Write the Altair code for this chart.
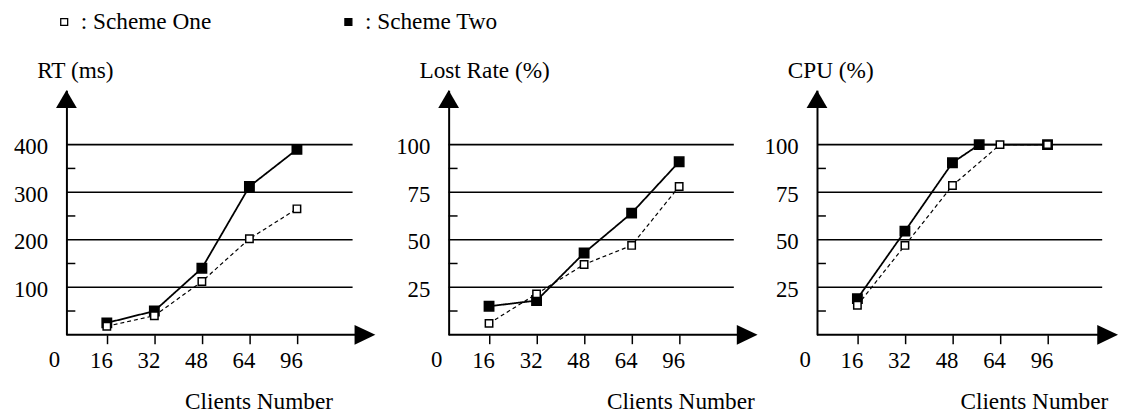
import json
import altair as alt
import numpy as np
import pandas as pd

FONT = "Liberation Serif"

# ---------------- data ----------------
clients = [16, 32, 48, 64, 96]
series_names = ["Scheme One", "Scheme Two"]
origin_label = ["0"]

rt_one = [18, 40, 112, 202, 265]
rt_two = [25, 50, 140, 312, 390]
rt_major = [100, 200, 300, 400]
rt_minor = [50, 150, 250, 350]

lost_one = [6, 21.5, 37, 47, 78]
lost_two = [15, 18, 43, 64, 91]

cpu_one = [15.5, 47, 78.5, 100, 100]
cpu_two = [19, 54.5, 90.5, 100, 100]
cpu_two_clients = [16, 32, 48, 57, 96]

pct_major = [25, 50, 75, 100]
pct_minor = [12.5, 37.5, 62.5, 87.5]

# ---------------- layout constants ----------------
H = 247
SLOT_PX = 48.0
SLOT0 = 0.15
slots = list(range(1, len(clients) + 1))
label_expr = json.dumps([""] + [str(c) for c in clients]) + "[datum.value]"

UP = "M-1,0.857L1,0.857L0,-0.857Z"
RIGHT = "M-1,-0.95L1,0L-1,0.95Z"

legend = alt.Legend(
    orient="none", legendX=-14, legendY=-81, direction="horizontal", title=None,
    symbolType="square", symbolSize=49, symbolStrokeColor="black", symbolStrokeWidth=1.3,
    symbolOpacity=1, labelFont=FONT, labelFontSize=23.5, labelColor="black",
    labelOffset=5, columnPadding=126, labelExpr="': ' + datum.label",
)
fill_scale = alt.Scale(domain=series_names, range=["white", "black"])
dash_of = {"Scheme One": [4, 3], "Scheme Two": [1, 0]}
width_of = {"Scheme One": 1.2, "Scheme Two": 1.8}
size_of = {"Scheme One": 56, "Scheme Two": 90}


def panel(one_x, one_y, two_x, two_y, units_per_px, major, minor, ytitle,
          W, grid_end, tip, title_x):
    rows = []
    for name, xs_, ys_ in (("Scheme Two", two_x, two_y), ("Scheme One", one_x, one_y)):
        for xv, yv in zip(xs_, ys_):
            rows.append({"series": name,
                         "slot": float(np.interp(xv, clients, slots)),
                         "value": yv})
    df = pd.DataFrame(rows)

    xsc = alt.Scale(domain=[SLOT0, SLOT0 + W / SLOT_PX], nice=False, zero=False)
    ysc = alt.Scale(domain=[0, H * units_per_px], nice=False, zero=False)

    x_axis = alt.Axis(
        values=slots, labelExpr=label_expr, domain=False, ticks=True, tickSize=9,
        tickWidth=1.5, tickColor="black", grid=False, labelFont=FONT,
        labelFontSize=23, labelColor="black", labelPadding=6, labelOffset=-6,
        labelOverlap=False, labelFlush=False,
        title="Clients Number", titleFont=FONT, titleFontSize=23.5,
        titleFontWeight="normal", titleColor="black", titleX=title_x, titleY=74,
        titleAlign="center", titleBaseline="alphabetic",
    )
    y_axis = alt.Axis(
        values=major, ticks=False, tickSize=0, grid=False, domain=True,
        domainColor="black", domainWidth=2, labelFont=FONT, labelFontSize=23,
        labelColor="black", labelPadding=19, labelOffset=2, labelOverlap=False,
        labelFlush=False,
        title=ytitle, titleFont=FONT, titleFontSize=23.5, titleFontWeight="normal",
        titleColor="black", titleAngle=0, titleAlign="left",
        titleBaseline="alphabetic", titleX=-30, titleY=-13,
    )
    X = alt.X("slot:Q", scale=xsc, axis=x_axis)
    Y = alt.Y("value:Q", scale=ysc, axis=y_axis)

    grid = alt.Chart(pd.DataFrame({"value": major})).mark_rule(
        color="black", strokeWidth=1.6).encode(
        y=Y, x=alt.value(0), x2=alt.value(grid_end))
    minor_ticks = alt.Chart(pd.DataFrame({"value": minor})).mark_rule(
        color="black", strokeWidth=1.5).encode(
        y=Y, x=alt.value(0), x2=alt.value(9))

    zero_df = pd.DataFrame({"t": origin_label})
    x_line = alt.Chart(zero_df).mark_rule(color="black", strokeWidth=2).encode(
        x=alt.value(0), x2=alt.value(tip - 15), y=alt.value(H))
    up_arrow = alt.Chart(zero_df).mark_point(
        shape=UP, size=441, filled=True, color="black", opacity=1).encode(
        x=alt.value(0), y=alt.value(9))
    right_arrow = alt.Chart(zero_df).mark_point(
        shape=RIGHT, size=441, filled=True, color="black", opacity=1).encode(
        x=alt.value(tip - 10.5), y=alt.value(H))
    zero_text = alt.Chart(zero_df).mark_text(
        font=FONT, fontSize=23, baseline="alphabetic", align="center",
        color="black").encode(
        x=alt.value(-12), y=alt.value(H + 33), text="t:N")

    layers = [grid, minor_ticks]
    base = alt.Chart(df)
    for name in series_names:
        layers.append(
            base.transform_filter(alt.datum.series == name).mark_line(
                color="black", strokeDash=dash_of[name], strokeWidth=width_of[name]
            ).encode(x=X, y=Y)
        )
    for name in ["Scheme Two", "Scheme One"]:
        layers.append(
            base.transform_filter(alt.datum.series == name).mark_point(
                filled=True, stroke="black", strokeWidth=1.5, opacity=1,
                fillOpacity=1, shape="square", size=size_of[name]
            ).encode(x=X, y=Y,
                     fill=alt.Fill("series:N", scale=fill_scale, legend=legend))
        )
    layers += [x_line, up_arrow, right_arrow, zero_text]
    return alt.layer(*layers).properties(width=W, height=H)


p1 = panel(clients, rt_one, clients, rt_two, 100 / 48, rt_major, rt_minor,
           "RT (ms)", 326, 289, 312, 194)
p2 = panel(clients, lost_one, clients, lost_two, 25 / 48, pct_major, pct_minor,
           "Lost Rate (%)", 312, 288, 312, 234)
p3 = panel(clients, cpu_one, cpu_two_clients, cpu_two, 25 / 48, pct_major, pct_minor,
           "CPU (%)", 306, 288, 304, 219)

chart = alt.hconcat(p1, p2, p3, spacing=60, bounds="flush").configure_view(
    stroke=None
).properties(
    padding={"left": 5, "top": 0, "right": 0, "bottom": 0},
    background="white",
)

chart.save("out.html", embed_options={"renderer": "svg", "actions": False})
